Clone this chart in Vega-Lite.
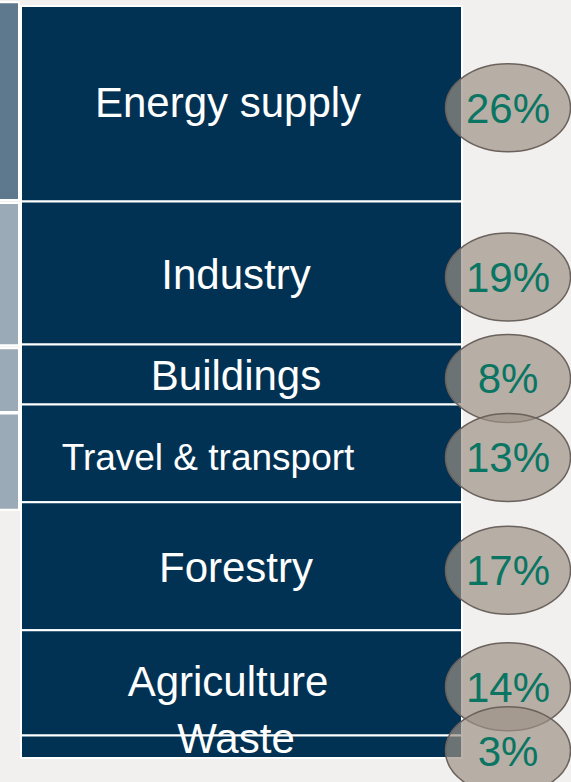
{
  "$schema": "https://vega.github.io/schema/vega-lite/v6.json",
  "width": 571,
  "height": 782,
  "autosize": {"type": "none"},
  "padding": 0,
  "background": "#f1f0ee",
  "config": {"view": {"stroke": null}, "font": "Liberation Sans"},
  "datasets": {
    "sectors": [
      {"sector": "Energy supply", "pct": 26, "order": 1},
      {"sector": "Industry", "pct": 19, "order": 2},
      {"sector": "Buildings", "pct": 8, "order": 3},
      {"sector": "Travel & transport", "pct": 13, "order": 4},
      {"sector": "Forestry", "pct": 17, "order": 5},
      {"sector": "Agriculture", "pct": 14, "order": 6},
      {"sector": "Waste", "pct": 3, "order": 7}
    ],
    "side": [
      {"part": "top", "tone": "dark", "y0": -0.5, "y1": 25.8},
      {"part": "second", "tone": "light", "y0": 26.2, "y1": 45.1},
      {"part": "third", "tone": "light", "y0": 45.5, "y1": 54.0},
      {"part": "fourth", "tone": "light", "y0": 54.2, "y1": 67.0}
    ]
  },
  "layer": [
    {
      "data": {"name": "side"},
      "mark": {"type": "rect", "stroke": "white", "strokeWidth": 2},
      "encoding": {
        "x": {"datum": -5, "type": "quantitative", "scale": {"domain": [0, 571], "nice": false, "zero": false}, "axis": null},
        "x2": {"datum": 19},
        "y": {"field": "y0", "type": "quantitative", "scale": {"domain": [-0.8, 103.19], "reverse": true, "nice": false, "zero": false}, "axis": null},
        "y2": {"field": "y1"},
        "fill": {"field": "tone", "type": "nominal", "scale": {"domain": ["dark", "light"], "range": ["#5e798d", "#9aaab6"]}, "legend": null}
      }
    },
    {
      "data": {"name": "sectors"},
      "transform": [
        {"stack": "pct", "groupby": [], "sort": [{"field": "order", "order": "ascending"}], "as": ["s0", "s1"]},
        {"calculate": "(datum.s0 + datum.s1) / 2", "as": "mid"},
        {"calculate": "datum.pct + '%'", "as": "pct_label"}
      ],
      "layer": [
        {
          "mark": {"type": "rect", "fill": "#013253", "stroke": "white", "strokeWidth": 2},
          "encoding": {
            "x": {"datum": 21, "type": "quantitative"},
            "x2": {"datum": 462},
            "y": {"field": "s0", "type": "quantitative"},
            "y2": {"field": "s1"}
          }
        },
        {
          "transform": [{"filter": "datum.sector === 'Industry' || datum.sector === 'Buildings' || datum.sector === 'Forestry'"}],
          "mark": {"type": "text", "color": "white", "align": "center", "baseline": "middle", "fontSize": 42, "dy": 3, "font": "Liberation Sans"},
          "encoding": {
            "x": {"datum": 236, "type": "quantitative"},
            "y": {"field": "mid", "type": "quantitative"},
            "text": {"field": "sector"}
          }
        },
        {
          "transform": [{"filter": "datum.sector === 'Energy supply' || datum.sector === 'Agriculture'"}],
          "mark": {"type": "text", "color": "white", "align": "center", "baseline": "middle", "fontSize": 42, "dx": -8, "dy": 0, "font": "Liberation Sans"},
          "encoding": {
            "x": {"datum": 236, "type": "quantitative"},
            "y": {"field": "mid", "type": "quantitative"},
            "text": {"field": "sector"}
          }
        },
        {
          "transform": [{"filter": "datum.sector === 'Travel & transport'"}],
          "mark": {"type": "text", "color": "white", "align": "center", "baseline": "middle", "fontSize": 37, "dx": -28, "dy": 6, "font": "Liberation Sans"},
          "encoding": {
            "x": {"datum": 236, "type": "quantitative"},
            "y": {"field": "mid", "type": "quantitative"},
            "text": {"field": "sector"}
          }
        },
        {
          "transform": [{"filter": "datum.sector === 'Waste'"}],
          "mark": {"type": "text", "color": "white", "align": "center", "baseline": "middle", "fontSize": 42, "dy": -7, "font": "Liberation Sans"},
          "encoding": {
            "x": {"datum": 236, "type": "quantitative"},
            "y": {"field": "mid", "type": "quantitative"},
            "text": {"field": "sector"}
          }
        },
        {
          "mark": {"type": "point", "filled": true, "shape": "M-1,0A1,0.704,0,1,1,1,0A1,0.704,0,1,1,-1,0Z", "fill": "#9c9186", "fillOpacity": 0.69, "stroke": "#6b625d", "strokeWidth": 1.5, "strokeOpacity": 1, "opacity": 1},
          "encoding": {
            "x": {"datum": 508, "type": "quantitative"},
            "y": {"field": "mid", "type": "quantitative"},
            "yOffset": {"value": 4},
            "size": {"value": 15625}
          }
        },
        {
          "mark": {"type": "text", "color": "#0b7563", "align": "center", "baseline": "middle", "fontSize": 42, "dy": 6, "font": "Liberation Sans"},
          "encoding": {
            "x": {"datum": 508, "type": "quantitative"},
            "y": {"field": "mid", "type": "quantitative"},
            "text": {"field": "pct_label"}
          }
        }
      ]
    }
  ]
}
